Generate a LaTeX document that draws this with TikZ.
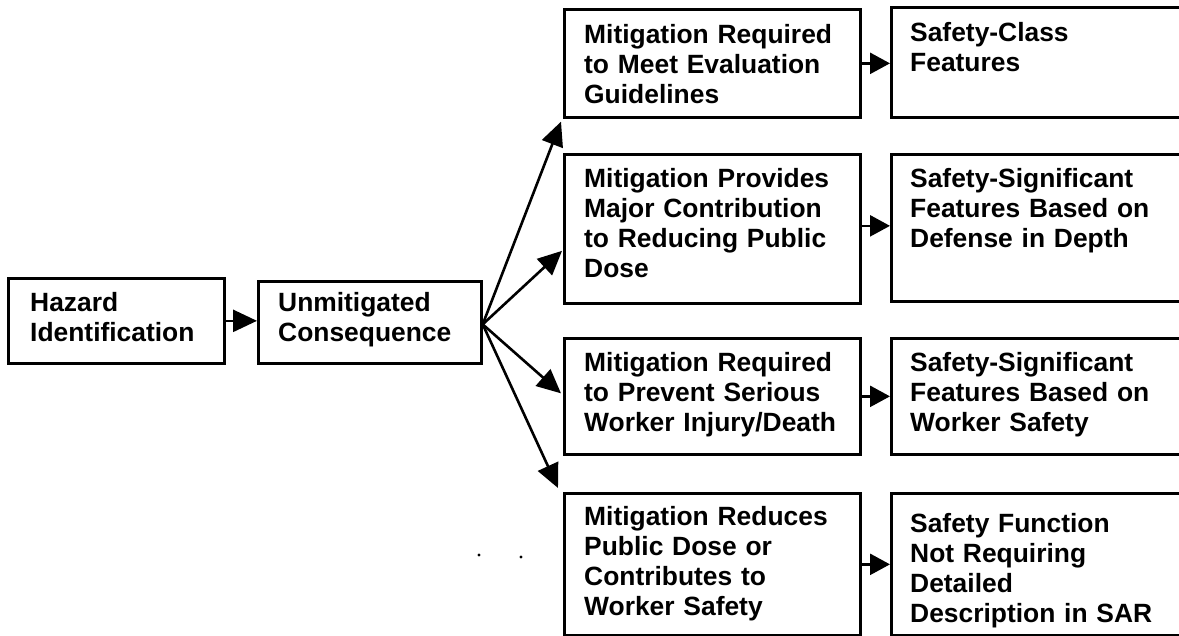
\documentclass[tikz,border=0pt]{standalone}
\usepackage{fontspec}
\setmainfont{Liberation Sans}
\usetikzlibrary{arrows.meta}

\tikzset{
  box/.style={draw, line width=2.7pt, anchor=north west, inner sep=0pt},
  txt/.style={anchor=base west, inner sep=0pt, text width=300pt, align=left,
              font=\fontsize{26.4}{30}\selectfont\bfseries},
  arr/.style={line width=2.6pt, -{Triangle[length=24pt,width=22pt]}},
  shortarr/.style={line width=2.6pt, -{Triangle[length=20pt,width=21pt]}},
  speck/.style={fill=black, draw=none}
}

\begin{document}
\begin{tikzpicture}[x=1pt, y=-1pt]
  \useasboundingbox (0,0) rectangle (1179,636);
  \clip (0,0) rectangle (1179,636);

  % first two stages
  \node[box, minimum width=216pt, minimum height=85pt] (h) at (7,277) {};
  \node[txt] (ht) at (30,312) {Hazard\\Identification};
  \node[box, minimum width=223pt, minimum height=82pt] (u) at (257,280) {};
  \node[txt] (ut) at (278,312) {Unmitigated\\Consequence};

  % mitigation column
  \node[box, minimum width=296pt, minimum height=108pt] (m1) at (563,8) {};
  \node[txt] (m1t) at (584,44) {Mitigation Required\\to Meet Evaluation\\Guidelines};
  \node[box, minimum width=296pt, minimum height=149pt] (m2) at (563,153) {};
  \node[txt] (m2t) at (584,188) {Mitigation Provides\\Major Contribution\\to Reducing Public\\Dose};
  \node[box, minimum width=296pt, minimum height=116pt] (m3) at (563,337) {};
  \node[txt] (m3t) at (584,372) {Mitigation Required\\to Prevent Serious\\Worker Injury/Death};
  \node[box, minimum width=296pt, minimum height=142pt] (m4) at (563,492) {};
  \node[txt] (m4t) at (584,525) {Mitigation Reduces\\Public Dose or\\Contributes to\\Worker Safety};

  % resulting classification column (runs past the right edge)
  \node[box, minimum width=300pt, minimum height=110pt] (r1) at (890,6) {};
  \node[txt] (r1t) at (910,42) {Safety-Class\\Features};
  \node[box, minimum width=300pt, minimum height=147pt] (r2) at (890,153) {};
  \node[txt] (r2t) at (910,188) {Safety-Significant\\Features Based on\\Defense in Depth};
  \node[box, minimum width=300pt, minimum height=116pt] (r3) at (890,337) {};
  \node[txt] (r3t) at (910,372) {Safety-Significant\\Features Based on\\Worker Safety};
  \node[box, minimum width=300pt, minimum height=142pt] (r4) at (890,492) {};
  \node[txt] (r4t) at (910,532) {Safety Function\\Not Requiring\\Detailed\\Description in SAR};

  % connectors
  \draw[arr] (h.east) -- (h.east -| u.west);
  \coordinate (fan) at ([yshift=-2pt]u.east);
  \draw[arr] (fan) -- ([xshift=-2pt,yshift=-3pt]m1.south west);
  \draw[arr] (fan) -- ([xshift=-1pt,yshift=-22pt]m2.west);
  \draw[arr] (fan) -- ([xshift=-2pt,yshift=3pt]m3.west);
  \draw[arr] (fan) -- ([xshift=-5pt,yshift=4pt]m4.north west);
  \draw[shortarr] (m1.east) -- (m1.east -| r1.west);
  \draw[shortarr] ([yshift=3pt]m2.east) -- ([yshift=3pt]m2.east -| r2.west);
  \draw[shortarr] (m3.east) -- (m3.east -| r3.west);
  \draw[shortarr] (m4.east) -- (m4.east -| r4.west);

  % stray specks
  \fill[speck] (479,555) circle (1.7pt);
  \fill[speck] (521,557) circle (1.7pt);
\end{tikzpicture}
\end{document}
